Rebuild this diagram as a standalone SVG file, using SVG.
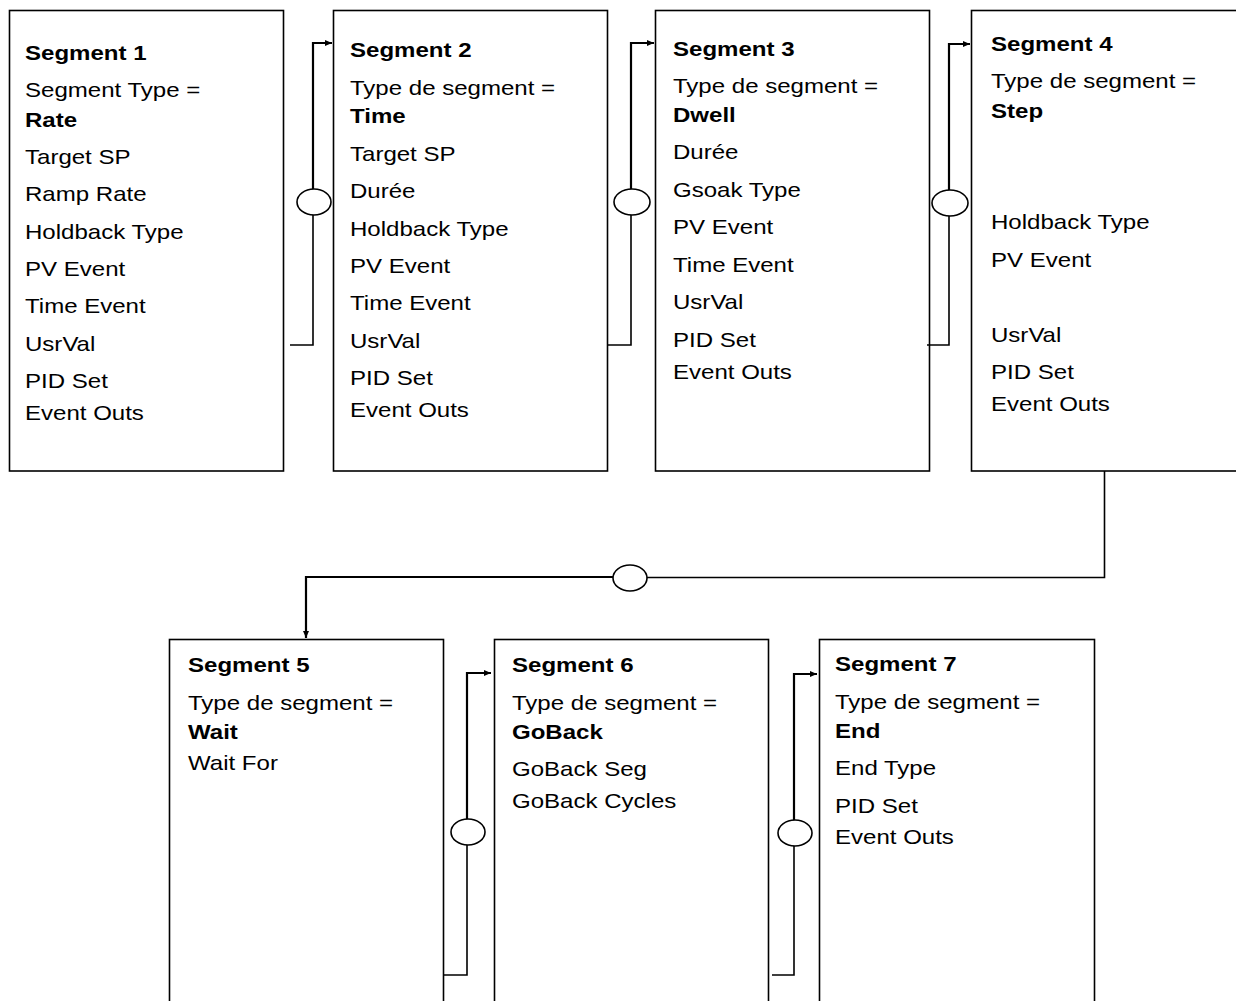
<svg xmlns="http://www.w3.org/2000/svg" width="1236" height="1001" viewBox="0 0 1236 1001">
<defs>
<marker id="arr" markerWidth="8" markerHeight="8" refX="7" refY="4" orient="auto" markerUnits="userSpaceOnUse">
<path d="M0,1 L7,4 L0,7 Z" fill="#000"/>
</marker>
<style>
.box{fill:#fff;stroke:#000;stroke-width:1.6}
text{font-family:"Liberation Sans",Arial,sans-serif;font-size:21px;fill:#000}
.b{font-weight:bold}
.c{fill:none;stroke:#000;stroke-width:1.6}
.ct{fill:none;stroke:#000;stroke-width:2.2}
.ell{fill:#fff;stroke:#000;stroke-width:1.6}
</style>
</defs>
<rect width="1236" height="1001" fill="#fff"/>

<g id="seg1">
<rect class="box" x="9.5" y="10.5" width="274" height="460.5"/>
<text transform="matrix(1.145,0,0,1,25,60)" class="b">Segment 1</text>
<text transform="matrix(1.145,0,0,1,25,97)">Segment Type =</text>
<text transform="matrix(1.145,0,0,1,25,127)" class="b">Rate</text>
<text transform="matrix(1.145,0,0,1,25,164)">Target SP</text>
<text transform="matrix(1.145,0,0,1,25,201)">Ramp Rate</text>
<text transform="matrix(1.145,0,0,1,25,239)">Holdback Type</text>
<text transform="matrix(1.145,0,0,1,25,276)">PV Event</text>
<text transform="matrix(1.145,0,0,1,25,313)">Time Event</text>
<text transform="matrix(1.145,0,0,1,25,351)">UsrVal</text>
<text transform="matrix(1.145,0,0,1,25,388)">PID Set</text>
<text transform="matrix(1.145,0,0,1,25,420)">Event Outs</text>
</g>

<g id="seg2">
<rect class="box" x="333.5" y="10.5" width="274" height="460.5"/>
<text transform="matrix(1.145,0,0,1,350,57)" class="b">Segment 2</text>
<text transform="matrix(1.145,0,0,1,350,95)">Type de segment =</text>
<text transform="matrix(1.145,0,0,1,350,123)" class="b">Time</text>
<text transform="matrix(1.145,0,0,1,350,161)">Target SP</text>
<text transform="matrix(1.145,0,0,1,350,198)">Durée</text>
<text transform="matrix(1.145,0,0,1,350,236)">Holdback Type</text>
<text transform="matrix(1.145,0,0,1,350,273)">PV Event</text>
<text transform="matrix(1.145,0,0,1,350,310)">Time Event</text>
<text transform="matrix(1.145,0,0,1,350,348)">UsrVal</text>
<text transform="matrix(1.145,0,0,1,350,385)">PID Set</text>
<text transform="matrix(1.145,0,0,1,350,417)">Event Outs</text>
</g>

<g id="seg3">
<rect class="box" x="655.5" y="10.5" width="274" height="460.5"/>
<text transform="matrix(1.145,0,0,1,673,56)" class="b">Segment 3</text>
<text transform="matrix(1.145,0,0,1,673,93)">Type de segment =</text>
<text transform="matrix(1.145,0,0,1,673,122)" class="b">Dwell</text>
<text transform="matrix(1.145,0,0,1,673,159)">Durée</text>
<text transform="matrix(1.145,0,0,1,673,197)">Gsoak Type</text>
<text transform="matrix(1.145,0,0,1,673,234)">PV Event</text>
<text transform="matrix(1.145,0,0,1,673,272)">Time Event</text>
<text transform="matrix(1.145,0,0,1,673,309)">UsrVal</text>
<text transform="matrix(1.145,0,0,1,673,347)">PID Set</text>
<text transform="matrix(1.145,0,0,1,673,379)">Event Outs</text>
</g>

<g id="seg4">
<rect class="box" x="971.5" y="10.5" width="280" height="460.5"/>
<text transform="matrix(1.145,0,0,1,991,51)" class="b">Segment 4</text>
<text transform="matrix(1.145,0,0,1,991,88)">Type de segment =</text>
<text transform="matrix(1.145,0,0,1,991,118)" class="b">Step</text>
<text transform="matrix(1.145,0,0,1,991,229)">Holdback Type</text>
<text transform="matrix(1.145,0,0,1,991,267)">PV Event</text>
<text transform="matrix(1.145,0,0,1,991,342)">UsrVal</text>
<text transform="matrix(1.145,0,0,1,991,379)">PID Set</text>
<text transform="matrix(1.145,0,0,1,991,411)">Event Outs</text>
</g>

<g id="seg5">
<rect class="box" x="169.5" y="639.5" width="274" height="380"/>
<text transform="matrix(1.145,0,0,1,188,672)" class="b">Segment 5</text>
<text transform="matrix(1.145,0,0,1,188,710)">Type de segment =</text>
<text transform="matrix(1.145,0,0,1,188,739)" class="b">Wait</text>
<text transform="matrix(1.145,0,0,1,188,770)">Wait For</text>
</g>

<g id="seg6">
<rect class="box" x="494.5" y="639.5" width="274" height="380"/>
<text transform="matrix(1.145,0,0,1,512,672)" class="b">Segment 6</text>
<text transform="matrix(1.145,0,0,1,512,710)">Type de segment =</text>
<text transform="matrix(1.145,0,0,1,512,739)" class="b">GoBack</text>
<text transform="matrix(1.145,0,0,1,512,776)">GoBack Seg</text>
<text transform="matrix(1.145,0,0,1,512,808)">GoBack Cycles</text>
</g>

<g id="seg7">
<rect class="box" x="819.5" y="639.5" width="275" height="380"/>
<text transform="matrix(1.145,0,0,1,835,671)" class="b">Segment 7</text>
<text transform="matrix(1.145,0,0,1,835,709)">Type de segment =</text>
<text transform="matrix(1.145,0,0,1,835,738)" class="b">End</text>
<text transform="matrix(1.145,0,0,1,835,775)">End Type</text>
<text transform="matrix(1.145,0,0,1,835,813)">PID Set</text>
<text transform="matrix(1.145,0,0,1,835,844)">Event Outs</text>
</g>

<g id="connectors">
<polyline class="c" points="290,345 313,345 313,202"/>
<polyline class="ct" points="313,202 313,43 332,43" marker-end="url(#arr)"/>
<ellipse class="ell" cx="314" cy="202" rx="17" ry="13"/>
<polyline class="c" points="608,345 631,345 631,202"/>
<polyline class="ct" points="631,202 631,43 654,43" marker-end="url(#arr)"/>
<ellipse class="ell" cx="632" cy="202" rx="18" ry="13"/>
<polyline class="c" points="927,345 949,345 949,203"/>
<polyline class="ct" points="949,203 949,44 970,44" marker-end="url(#arr)"/>
<ellipse class="ell" cx="950" cy="203" rx="18" ry="13"/>
<polyline class="c" points="1104.5,471 1104.5,577.5 630,577.5"/>
<polyline class="ct" points="630,577 306,577 306,638" marker-end="url(#arr)"/>
<ellipse class="ell" cx="630" cy="578" rx="17" ry="13"/>
<polyline class="c" points="443,975 467,975 467,832"/>
<polyline class="ct" points="467,832 467,673 491,673" marker-end="url(#arr)"/>
<ellipse class="ell" cx="468" cy="832" rx="17" ry="13"/>
<polyline class="c" points="772,975 794,975 794,833"/>
<polyline class="ct" points="794,833 794,674 817,674" marker-end="url(#arr)"/>
<ellipse class="ell" cx="795" cy="833" rx="17" ry="13"/>
</g>
</svg>
